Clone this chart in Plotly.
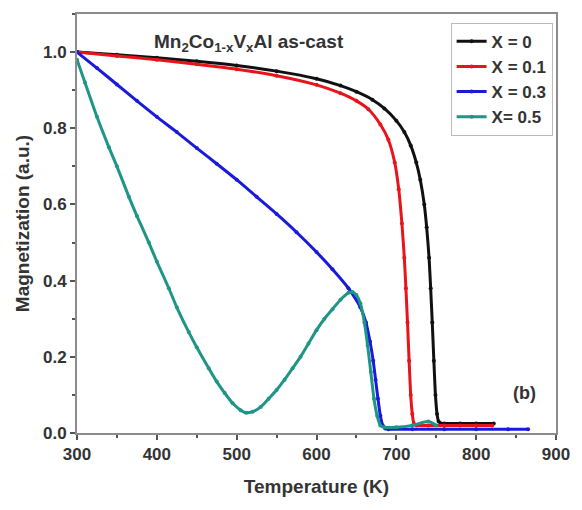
import plotly.graph_objects as go

# ---- data ----
t_x0 = [300, 350, 400, 450, 500, 550, 600, 630, 650, 670, 685, 700, 710, 718, 725, 730, 735, 738, 741, 743, 745, 747, 749, 751, 753, 756, 760, 780, 800, 822]
m_x0 = [1.0, 0.993, 0.985, 0.976, 0.965, 0.95, 0.93, 0.912, 0.896, 0.875, 0.852, 0.82, 0.79, 0.755, 0.71, 0.665, 0.6, 0.54, 0.46, 0.38, 0.29, 0.19, 0.1, 0.05, 0.03, 0.025, 0.025, 0.025, 0.025, 0.025]

t_x1 = [300, 350, 400, 450, 500, 550, 600, 630, 650, 665, 680, 690, 698, 703, 707, 710, 712, 714, 716, 718, 720, 722, 725, 740, 760, 780, 800, 820]
m_x1 = [1.0, 0.99, 0.98, 0.968, 0.955, 0.938, 0.914, 0.892, 0.872, 0.85, 0.81, 0.77, 0.71, 0.64, 0.55, 0.46, 0.38, 0.29, 0.19, 0.1, 0.05, 0.025, 0.02, 0.02, 0.02, 0.02, 0.02, 0.02]

t_x3 = [300, 325, 350, 375, 400, 425, 450, 475, 500, 525, 550, 575, 600, 620, 640, 655, 662, 667, 671, 674, 677, 680, 683, 686, 690, 720, 760, 800, 840, 865]
m_x3 = [1.0, 0.958, 0.915, 0.872, 0.83, 0.79, 0.748, 0.707, 0.665, 0.62, 0.575, 0.527, 0.475, 0.43, 0.38, 0.33, 0.29, 0.24, 0.19, 0.14, 0.09, 0.045, 0.02, 0.012, 0.01, 0.01, 0.01, 0.01, 0.01, 0.01]

t_x5 = [300, 310, 325, 340, 350, 365, 375, 390, 400, 415, 425, 440, 450, 465, 475, 485, 495, 505, 512, 520, 530, 540, 550, 560, 570, 580, 590, 600, 610, 620, 630, 640, 645, 650, 655, 660, 664, 668, 672, 676, 680, 685, 700, 720, 740, 750]
m_x5 = [0.98, 0.92, 0.83, 0.75, 0.70, 0.62, 0.57, 0.5, 0.45, 0.38, 0.33, 0.265, 0.225, 0.17, 0.135, 0.105, 0.078, 0.06, 0.053, 0.056, 0.068, 0.09, 0.113, 0.14, 0.17, 0.2, 0.235, 0.27, 0.3, 0.325, 0.35, 0.368, 0.37, 0.362, 0.34, 0.29, 0.23, 0.16, 0.09, 0.045, 0.02, 0.015, 0.015, 0.02, 0.03, 0.02]

series = [
    ("X = 0", t_x0, m_x0, "#111111"),
    ("X = 0.1", t_x1, m_x1, "#e8141b"),
    ("X = 0.3", t_x3, m_x3, "#1a1adb"),
    ("X= 0.5", t_x5, m_x5, "#1f9588"),
]

fig = go.Figure()
for name, tx, my, col in series:
    fig.add_trace(go.Scatter(
        x=tx, y=my, name=name, mode="lines+markers",
        line=dict(color=col, width=3, shape="spline", smoothing=0.6),
        marker=dict(color=col, size=4),
    ))

font_c = "#333333"
FAM = "Liberation Sans"
axis_common = dict(
    showline=True, linecolor="#8c8c8c", linewidth=2, mirror=True,
    ticks="outside", ticklen=5, tickwidth=1.5, tickcolor="#555555",
    showgrid=False, zeroline=False,
    tickfont=dict(family=FAM, size=17, color=font_c, weight="bold"),
    title_font=dict(family=FAM, size=19, color=font_c, weight="bold"),
)

fig.update_xaxes(range=[300, 900], tickvals=[300, 400, 500, 600, 700, 800, 900],
                 minor=dict(ticks="outside", ticklen=3, dtick=50, tickcolor="#555555"),
                 title_text="Temperature (K)", title_standoff=16, **axis_common)
fig.update_yaxes(range=[0, 1.1], tickvals=[0, 0.2, 0.4, 0.6, 0.8, 1.0], tickformat=".1f",
                 minor=dict(ticks="outside", ticklen=3, dtick=0.1, tickcolor="#555555"),
                 title_text="Magnetization (a.u.)", title_standoff=8, **axis_common)

fig.add_annotation(text="Mn<sub>2</sub>Co<sub>1-x</sub>V<sub>x</sub>Al as-cast",
                   xref="paper", yref="paper", x=0.36, y=0.965, showarrow=False,
                   font=dict(family=FAM, size=19, color=font_c, weight="bold"))
fig.add_annotation(text="(b)", xref="paper", yref="paper", x=0.963, y=0.067,
                   showarrow=False,
                   font=dict(family=FAM, size=18, color=font_c, weight="bold"))

fig.update_layout(
    width=582, height=510,
    margin=dict(l=77, r=19, t=13, b=77),
    plot_bgcolor="white", paper_bgcolor="white",
    legend=dict(x=0.78, y=0.979, xanchor="left", yanchor="top",
                bordercolor="#bbbbbb", borderwidth=1, bgcolor="white",
                itemwidth=30, tracegroupgap=0,
                font=dict(family=FAM, size=17, color=font_c, weight="bold")),
)

fig.write_html("out.html")
